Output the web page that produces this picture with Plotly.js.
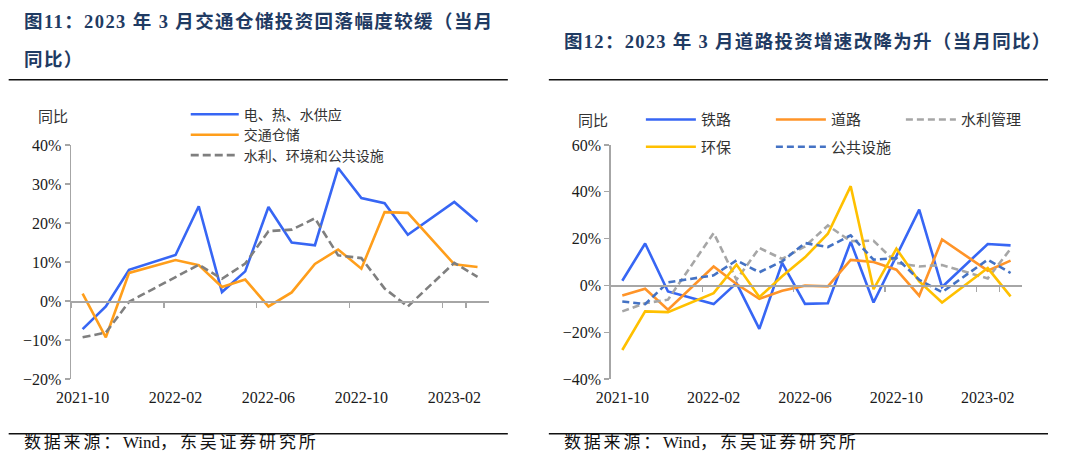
<!DOCTYPE html>
<html>
<head>
<meta charset="utf-8">
<script src="https://cdn.plot.ly/plotly-3.0.1.min.js"></script>
<style>
  html, body { margin: 0; padding: 0; background: #fff; }
  #chart { width: 1080px; height: 468px; }
</style>
</head>
<body>
<div id="chart"></div>
<script>
// ---------- data ----------
const months = ['2021-10','2021-11','2021-12','2022-01','2022-02','2022-03','2022-04','2022-05','2022-06',
                '2022-07','2022-08','2022-09','2022-10','2022-11','2022-12','2023-01','2023-02','2023-03'];
const tickMonths = ['2021-10','2022-02','2022-06','2022-10','2023-02'];

// Figure 11
const elecHeatWater = [-7.2, -1.4, 8.0, null, 11.8, 24.3, 2.3, 7.6, 24.1, 15.0, 14.3, 34.1, 26.4, 25.1, 17.0, null, 25.4, 20.3];
const transportStorage = [1.9, -9.3, 7.2, null, 10.5, 9.2, 3.6, 5.5, -1.4, 2.2, 9.5, 13.2, 8.3, 22.8, 22.6, null, 9.4, 8.7];
const waterEnvPublic = [-9.3, -8.1, -0.2, null, 6.1, 9.3, 5.7, 9.6, 17.9, 18.3, 21.2, 11.7, 11.0, 3.2, -1.4, null, 9.8, 6.2];

// Figure 12
const railway = [2.0, 17.9, -2.6, null, -8.0, 1.0, -18.6, 9.6, -7.9, -7.6, 18.6, -7.3, 12.4, 32.4, -0.7, null, 17.7, 17.1];
const road = [-4.3, -1.4, -10.4, null, 8.1, 0.6, -5.7, -2.3, -0.1, -0.4, 10.9, 10.0, 6.7, -4.4, 19.6, null, 6.3, 10.6];
const waterMgmt = [-11.1, -7.6, -6.1, null, 22.4, 2.4, 16.0, 11.3, 16.7, 25.6, 18.9, 19.1, 9.6, 8.1, 8.7, null, 3.0, 15.6];
const envProtect = [-27.6, -11.1, -11.4, null, -3.3, 8.9, -5.0, 3.9, 12.0, 22.1, 42.4, -1.6, 15.7, 1.7, -7.3, null, 7.4, -4.7];
const publicFac = [-6.9, -8.0, 1.3, null, 4.3, 10.7, 5.6, 10.3, 18.1, 16.4, 21.4, 11.0, 11.7, 2.4, -2.9, null, 11.0, 5.3];

// ---------- geometry helpers (page px -> paper) ----------
const W = 1080, H = 468;
const M = {l: 71.3, r: 58, t: 145.3, b: 88.7};
const PW = W - M.l - M.r, PH = H - M.t - M.b;
const px = x => (x - M.l) / PW;
const py = y => (H - M.b - y) / PH;

const CJK = '"Noto Sans CJK SC", sans-serif';
const SERIF = '"Liberation Serif", "Noto Sans CJK SC", serif';

function line(name, y, color, xa, ya, dash, legend) {
  return {
    type: 'scatter', mode: 'lines', name: name, x: months, y: y,
    xaxis: xa, yaxis: ya, connectgaps: true, legend: legend,
    line: {color: color, width: 2.6, dash: dash || 'solid'},
    hoverinfo: 'skip'
  };
}

const traces = [
  line('电、热、水供应', elecHeatWater, '#3766F4', 'x', 'y', 'solid', 'legend'),
  line('交通仓储', transportStorage, '#FF9E1B', 'x', 'y', 'solid', 'legend4'),
  line('水利、环境和公共设施', waterEnvPublic, '#7F7F7F', 'x', 'y', '8px,4px', 'legend5'),
  line('铁路', railway, '#3766F4', 'x2', 'y2', 'solid', 'legend2'),
  line('道路', road, '#FF9428', 'x2', 'y2', 'solid', 'legend2'),
  line('水利管理', waterMgmt, '#A6A6A6', 'x2', 'y2', '7px,4px', 'legend2'),
  line('环保', envProtect, '#FFC000', 'x2', 'y2', 'solid', 'legend3'),
  line('公共设施', publicFac, '#4472C4', 'x2', 'y2', '7px,4px', 'legend3')
];

const AXC = '#A6A6A6';
const tickFont = {family: SERIF, size: 16, color: '#1a1a1a'};

function xAxis(domain, pos, standoff) {
  return {
    domain: domain, type: 'category', categoryorder: 'array', categoryarray: months,
    range: [-0.5, 17.5], anchor: 'free', position: pos,
    showline: true, linecolor: AXC, linewidth: 1.5,
    ticks: 'outside', tickson: 'boundaries', ticklen: 5, tickcolor: AXC, tickwidth: 1.2,
    tickmode: 'array', tickvals: tickMonths, ticktext: tickMonths, tickangle: 0,
    ticklabelstandoff: standoff,
    showgrid: false, zeroline: false, tickfont: tickFont, fixedrange: true
  };
}
function yAxis(anchor, range, dtick) {
  return {
    anchor: anchor, domain: [0, 1], range: range, dtick: dtick, tick0: 0,
    ticksuffix: '%', showline: true, linecolor: AXC, linewidth: 1.5,
    ticks: 'outside', ticklen: 5, tickcolor: AXC, tickwidth: 1.2,
    showgrid: false, zeroline: false, tickfont: tickFont, fixedrange: true
  };
}

const legendFont = {family: CJK, size: 15, color: '#333'};
const legendFontSmall = {family: CJK, size: 14, color: '#333'};
function vLegend(yPx) {
  return {x: px(186), y: py(yPx), xanchor: 'left', yanchor: 'middle', orientation: 'v',
          itemwidth: 48, font: legendFontSmall, bgcolor: 'rgba(0,0,0,0)', tracegroupgap: 0};
}
function hLegend(yPx) {
  return {x: px(641), y: py(yPx), xanchor: 'left', yanchor: 'middle', orientation: 'h',
          itemwidth: 50, entrywidth: 65, font: legendFont, bgcolor: 'rgba(0,0,0,0)'};
}
function sp(txt, ls) { return '<span style="letter-spacing:' + ls + 'px">' + txt + '</span>'; }
const sourceText = sp('数据来源：', 2.8) + 'Wind' + sp('，东吴证券研究所', 2.8);

const layout = {
  width: W, height: H, margin: M, paper_bgcolor: '#fff', plot_bgcolor: 'rgba(0,0,0,0)',
  showlegend: true,
  xaxis: xAxis([0, px(489.3)], py(301.5), 81),
  yaxis: yAxis('x', [-20, 40], 10),
  xaxis2: xAxis([px(611), 1], py(285.7), 97),
  yaxis2: yAxis('x2', [-40, 60], 20),
  legend: vLegend(115),
  legend4: vLegend(135.4),
  legend5: vLegend(155.8),
  legend2: hLegend(120),
  legend3: hLegend(147.3),
  shapes: [
    {type: 'line', xref: 'paper', yref: 'paper', x0: px(9), x1: px(508), y0: py(80), y1: py(80), line: {color: '#111', width: 1.6}},
    {type: 'line', xref: 'paper', yref: 'paper', x0: px(549), x1: px(1048), y0: py(80), y1: py(80), line: {color: '#111', width: 1.6}},
    {type: 'line', xref: 'paper', yref: 'paper', x0: px(9), x1: px(508), y0: py(434), y1: py(434), line: {color: '#111', width: 1.6}},
    {type: 'line', xref: 'paper', yref: 'paper', x0: px(549), x1: px(1048), y0: py(434), y1: py(434), line: {color: '#111', width: 1.6}}
  ],
  annotations: [
    {text: '<b>' + sp('图11：2023 年 3 月交通仓储投资回落幅度较缓（当月', 1.4) + '</b>', xref: 'paper', yref: 'paper', x: px(22), y: py(22), xanchor: 'left', yanchor: 'middle', showarrow: false,
     font: {family: SERIF, size: 18.5, color: '#1F3B63'}},
    {text: '<b>' + sp('同比）', 1.4) + '</b>', xref: 'paper', yref: 'paper', x: px(22), y: py(60), xanchor: 'left', yanchor: 'middle', showarrow: false,
     font: {family: SERIF, size: 18.5, color: '#1F3B63'}},
    {text: '<b>' + sp('图12：2023 年 3 月道路投资增速改降为升（当月同比）', 1.3) + '</b>', xref: 'paper', yref: 'paper', x: px(562), y: py(42), xanchor: 'left', yanchor: 'middle', showarrow: false,
     font: {family: SERIF, size: 18.5, color: '#1F3B63'}},
    {text: '同比', xref: 'paper', yref: 'paper', x: px(36), y: py(116), xanchor: 'left', yanchor: 'middle', showarrow: false,
     font: {family: CJK, size: 15, color: '#333'}},
    {text: '同比', xref: 'paper', yref: 'paper', x: px(576), y: py(120), xanchor: 'left', yanchor: 'middle', showarrow: false,
     font: {family: CJK, size: 15, color: '#333'}},
    {text: sourceText, xref: 'paper', yref: 'paper', x: px(22), y: py(443), xanchor: 'left', yanchor: 'middle', showarrow: false,
     font: {family: SERIF, size: 17, color: '#111'}},
    {text: sourceText, xref: 'paper', yref: 'paper', x: px(562), y: py(443), xanchor: 'left', yanchor: 'middle', showarrow: false,
     font: {family: SERIF, size: 17, color: '#111'}}
  ]
};

Plotly.newPlot('chart', traces, layout, {staticPlot: true, displayModeBar: false});
</script>
</body>
</html>
